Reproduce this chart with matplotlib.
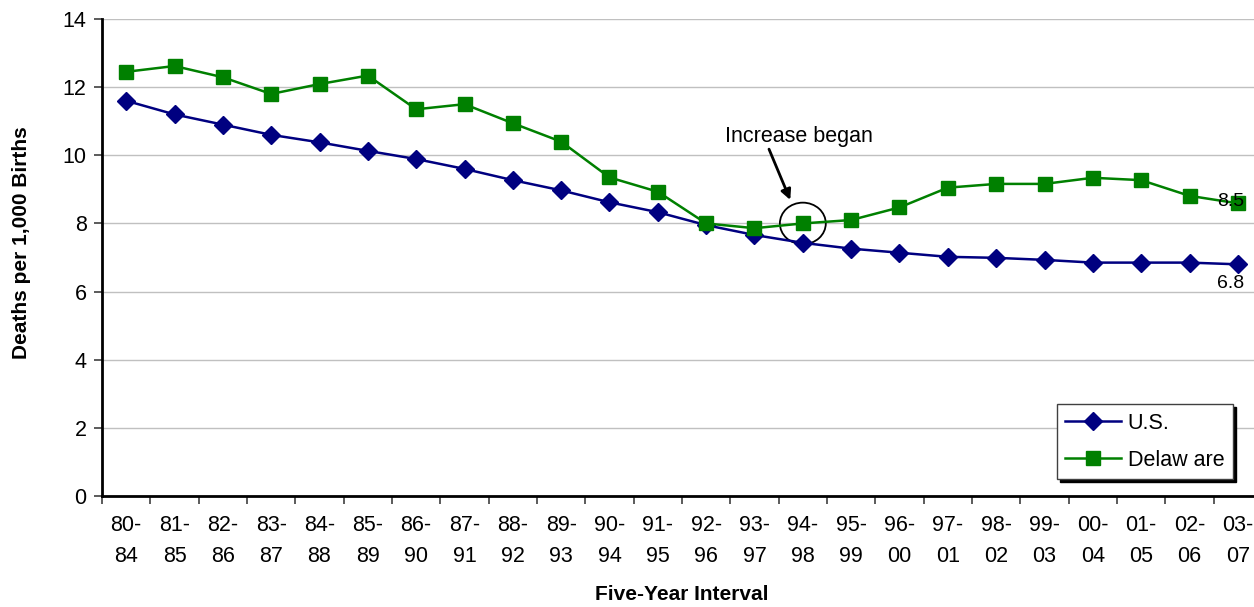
import matplotlib.pyplot as plt
from matplotlib.patches import Ellipse

plt.rcParams['font.family'] = ['Liberation Sans', 'DejaVu Sans']

intervals = ["80-\n84", "81-\n85", "82-\n86", "83-\n87", "84-\n88", "85-\n89",
             "86-\n90", "87-\n91", "88-\n92", "89-\n93", "90-\n94", "91-\n95",
             "92-\n96", "93-\n97", "94-\n98", "95-\n99", "96-\n00", "97-\n01",
             "98-\n02", "99-\n03", "00-\n04", "01-\n05", "02-\n06", "03-\n07"]

us_rate = [11.6, 11.2, 10.9, 10.6, 10.38, 10.13, 9.89, 9.6, 9.27, 8.97, 8.62, 8.33,
           7.95, 7.66, 7.43, 7.26, 7.14, 7.02, 6.99, 6.93, 6.85, 6.85, 6.85, 6.8]
de_rate = [12.45, 12.62, 12.29, 11.8, 12.09, 12.34, 11.35, 11.5, 10.94, 10.4, 9.35, 8.93,
           8.0, 7.86, 8.0, 8.1, 8.47, 9.05, 9.16, 9.16, 9.34, 9.27, 8.81, 8.59]

x = list(range(len(intervals)))

fig = plt.figure(figsize=(12.54, 6.07), dpi=100)
ax = fig.add_axes([102 / 1254, 111 / 607, 1160 / 1254, 477 / 607])

ax.plot(x, us_rate, color='#000080', marker='D', markersize=9, linewidth=1.8, label='U.S.')
ax.plot(x, de_rate, color='#008000', marker='s', markersize=10, linewidth=1.8, label='Delaw are')

ax.set_xlim(-0.5, len(x) - 0.5)
ax.set_ylim(0, 14)
ax.set_yticks(range(0, 15, 2))
ax.grid(axis='y', color='#c0c0c0', linewidth=1)
ax.set_axisbelow(True)

ax.set_xticks(x)
ax.set_xticklabels(intervals, fontsize=15.5, linespacing=1.6)
ax.tick_params(axis='x', length=0, pad=14)
ax.set_xticks([i - 0.5 for i in range(len(x) + 1)], minor=True)
ax.tick_params(axis='x', which='minor', length=6, width=1.2, color='#404040')
ax.tick_params(axis='y', labelsize=15.5, length=6, width=1.2, color='#404040', pad=5)

for side in ('top', 'right'):
    ax.spines[side].set_visible(False)
for side in ('left', 'bottom'):
    ax.spines[side].set_linewidth(2)

ax.set_xlabel('Five-Year Interval', fontsize=15, fontweight='bold')
ax.xaxis.set_label_coords(0.5, -0.186)
ax.set_ylabel('Deaths per 1,000 Births', fontsize=15, fontweight='bold')
ax.yaxis.set_label_coords(-0.061, 0.532)

# end-point value labels
ax.text(x[-1] - 0.15, de_rate[-1] + 0.05, '8.5', fontsize=14, ha='center', va='center')
ax.text(x[-1] - 0.15, us_rate[-1] - 0.55, '6.8', fontsize=14, ha='center', va='center')

# annotation around the 94-98 Delaware point
ax.add_patch(Ellipse((14, de_rate[14]), 0.95, 1.22, fill=False, edgecolor='black', linewidth=1.3))
ax.text(13.92, 10.55, 'Increase began', fontsize=15.5, ha='center', va='center')
ax.annotate('', xy=(13.74, 8.69), xytext=(13.3, 10.18),
            arrowprops=dict(arrowstyle='-|>', color='black', lw=2, mutation_scale=15,
                            shrinkA=0, shrinkB=0))

leg = ax.legend(loc='lower right', bbox_to_anchor=(1131 / 1160, 0.035), fontsize=15.5,
                fancybox=False, shadow={'color': 'black', 'alpha': 1}, framealpha=1,
                edgecolor='#404040', handlelength=2.6, handletextpad=0.3,
                labelspacing=0.75, borderpad=0.4, borderaxespad=0)
leg.get_frame().set_linewidth(1)

fig.savefig('out.png', dpi=100)
